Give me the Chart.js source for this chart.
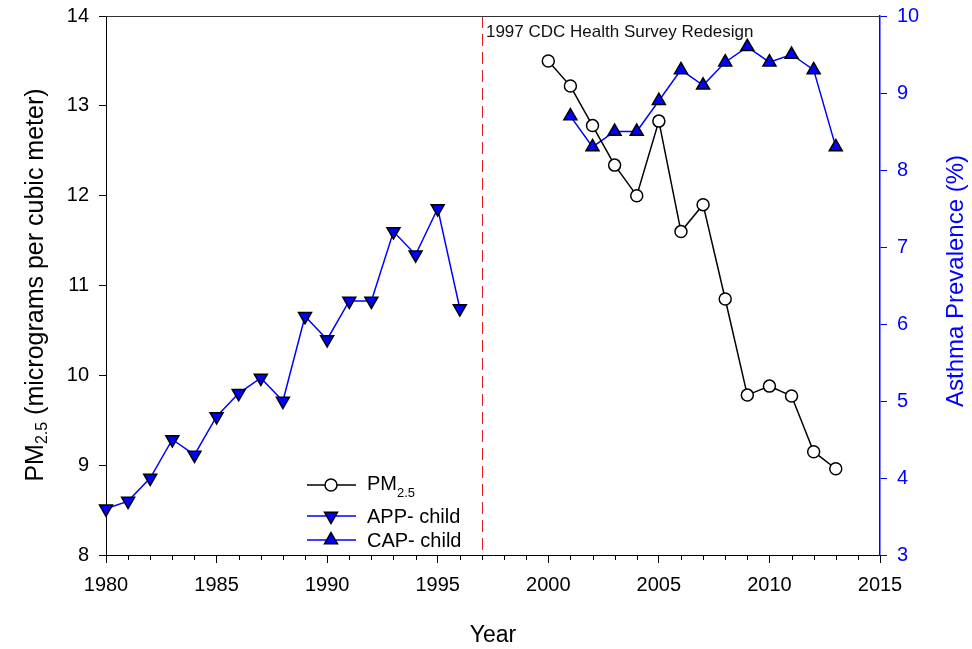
<!DOCTYPE html>
<html>
<head>
<meta charset="utf-8">
<script src="https://cdn.jsdelivr.net/npm/chart.js@4.4.1/dist/chart.umd.min.js"></script>
<style>
  html, body { margin: 0; padding: 0; background: #fff; }
  canvas { display: block; }
</style>
</head>
<body>
<canvas id="chart" width="972" height="649"></canvas>
<script>
// data
const appYears  = [1980, 1981, 1982, 1983, 1984, 1985, 1986, 1987, 1988, 1989, 1990, 1991, 1992, 1993, 1994, 1995, 1996]
const appValues = [3.6, 3.7, 4.0, 4.5, 4.3, 4.8, 5.1, 5.3, 5.0, 6.1, 5.8, 6.3, 6.3, 7.2, 6.9, 7.5, 6.2]

const capYears  = [2001, 2002, 2003, 2004, 2005, 2006, 2007, 2008, 2009, 2010, 2011, 2012, 2013]
const capValues = [8.7, 8.3, 8.5, 8.5, 8.9, 9.3, 9.1, 9.4, 9.6, 9.4, 9.5, 9.3, 8.3]

const pmYears  = [2000, 2001, 2002, 2003, 2004, 2005, 2006, 2007, 2008, 2009, 2010, 2011, 2012, 2013]
const pmValues = [13.5, 13.22, 12.78, 12.34, 12.0, 12.83, 11.6, 11.9, 10.85, 9.78, 9.88, 9.77, 9.15, 8.96]

const redesignYear = 1997
const redesignLabel = '1997 CDC Health Survey Redesign'

const FONT = '"Liberation Sans", Arial, sans-serif'
const BLUE = '#0000ff'

const toPoints = (xs, ys) => xs.map((x, i) => ({ x: x, y: ys[i] }))

// axis titles, legend, minor ticks, redesign marker
const extras = {
  id: 'extras',
  beforeDatasetsDraw(chart) {
    const { ctx, chartArea: a, scales } = chart
    const x = scales.x.getPixelForValue(redesignYear)
    ctx.save()
    ctx.strokeStyle = '#e02020'
    ctx.lineWidth = 1
    ctx.setLineDash([12, 6])
    ctx.beginPath()
    ctx.moveTo(Math.round(x) + 0.5, a.top)
    ctx.lineTo(Math.round(x) + 0.5, a.bottom)
    ctx.stroke()
    ctx.setLineDash([])
    // top frame
    ctx.strokeStyle = '#333'
    ctx.beginPath()
    ctx.moveTo(a.left, Math.round(a.top) + 0.5)
    ctx.lineTo(a.right, Math.round(a.top) + 0.5)
    ctx.stroke()
    // minor year ticks
    ctx.strokeStyle = '#000'
    ctx.beginPath()
    for (let yr = 1980; yr <= 2015; yr++) {
      if (yr % 5 === 0) continue
      const px = Math.round(scales.x.getPixelForValue(yr)) + 0.5
      ctx.moveTo(px, a.bottom)
      ctx.lineTo(px, a.bottom + 5)
    }
    ctx.stroke()
    ctx.fillStyle = '#111'
    ctx.font = '17px ' + FONT
    ctx.textBaseline = 'alphabetic'
    ctx.fillText(redesignLabel, x + 4, 37)
    ctx.restore()
  },
  afterDraw(chart) {
    const { ctx, chartArea: a } = chart
    ctx.save()
    ctx.textBaseline = 'alphabetic'

    // x title
    ctx.fillStyle = '#000'
    ctx.font = '23px ' + FONT
    ctx.textAlign = 'center'
    ctx.fillText('Year', (a.left + a.right) / 2, 642)

    // left title with subscript
    ctx.textAlign = 'left'
    const big = '25px ' + FONT, small = '16px ' + FONT
    const parts = [['PM', big, 0], ['2.5', small, 4], [' (micrograms per cubic meter)', big, 0]]
    let total = 0
    parts.forEach(p => { ctx.font = p[1]; total += ctx.measureText(p[0]).width })
    ctx.translate(43, 285)
    ctx.rotate(-Math.PI / 2)
    let off = -total / 2
    parts.forEach(p => {
      ctx.font = p[1]
      ctx.fillText(p[0], off, p[2])
      off += ctx.measureText(p[0]).width
    })
    ctx.setTransform(1, 0, 0, 1, 0, 0)

    // right title
    ctx.fillStyle = BLUE
    ctx.font = '24px ' + FONT
    ctx.textAlign = 'center'
    ctx.translate(963, 281)
    ctx.rotate(-Math.PI / 2)
    ctx.fillText('Asthma Prevalence (%)', 0, 0)
    ctx.setTransform(1, 0, 0, 1, 0, 0)

    // legend
    const rows = [
      { y: 485, ds: chart.data.datasets[0], label: 'PM', sub: '2.5' },
      { y: 516, ds: chart.data.datasets[1], label: 'APP- child' },
      { y: 540, ds: chart.data.datasets[2], label: 'CAP- child' }
    ]
    rows.forEach(r => {
      ctx.strokeStyle = r.ds.borderColor
      ctx.lineWidth = 1.5
      ctx.beginPath()
      ctx.moveTo(307, r.y)
      ctx.lineTo(356, r.y)
      ctx.stroke()
      ctx.fillStyle = r.ds.pointBackgroundColor
      ctx.strokeStyle = r.ds.pointBorderColor
      ctx.lineWidth = r.ds.pointBorderWidth
      Chart.helpers.drawPoint(ctx, {
        pointStyle: r.ds.pointStyle,
        rotation: r.ds.pointRotation || 0,
        radius: r.ds.pointRadius,
        borderWidth: r.ds.pointBorderWidth
      }, 331, r.y)
      ctx.fillStyle = '#000'
      ctx.textAlign = 'left'
      ctx.font = '20px ' + FONT
      if (r.sub) {
        ctx.fillText(r.label, 367, 490)
        const w = ctx.measureText(r.label).width
        ctx.font = '13px ' + FONT
        ctx.fillText(r.sub, 367 + w, 497)
      } else {
        ctx.fillText(r.label, 367, r.y + 7)
      }
    })
    ctx.restore()
  }
}

const chart = new Chart(document.getElementById('chart'), {
  type: 'line',
  data: {
    datasets: [
      {
        label: 'PM2.5',
        data: toPoints(pmYears, pmValues),
        yAxisID: 'y',
        clip: false,
        borderColor: '#000',
        borderWidth: 1.5,
        pointStyle: 'circle',
        pointRadius: 6,
        pointBackgroundColor: '#fff',
        pointBorderColor: '#000',
        pointBorderWidth: 1.5
      },
      {
        label: 'APP- child',
        data: toPoints(appYears, appValues),
        yAxisID: 'y1',
        clip: false,
        borderColor: BLUE,
        borderWidth: 1.5,
        pointStyle: 'triangle',
        pointRotation: 180,
        pointRadius: 7.5,
        pointBackgroundColor: BLUE,
        pointBorderColor: '#000',
        pointBorderWidth: 1.5
      },
      {
        label: 'CAP- child',
        data: toPoints(capYears, capValues),
        yAxisID: 'y1',
        clip: false,
        borderColor: BLUE,
        borderWidth: 1.5,
        pointStyle: 'triangle',
        pointRadius: 7.5,
        pointBackgroundColor: BLUE,
        pointBorderColor: '#000',
        pointBorderWidth: 1.5
      }
    ]
  },
  options: {
    responsive: false,
    animation: false,
    layout: { padding: { top: 16, left: 0, right: 0, bottom: 0 } },
    plugins: { legend: { display: false }, tooltip: { enabled: false } },
    elements: { line: { tension: 0 } },
    scales: {
      x: {
        type: 'linear',
        min: 1980,
        max: 2015,
        afterFit(s) { s.height = 94; s.paddingLeft = 0; s.paddingRight = 0 },
        ticks: { stepSize: 5, autoSkip: false, maxRotation: 0, padding: 10, color: '#000', font: { family: FONT, size: 20 }, callback: v => String(v) },
        grid: { drawOnChartArea: false, tickLength: 8, color: '#000' },
        border: { color: '#000', width: 1 }
      },
      y: {
        position: 'left',
        min: 8,
        max: 14,
        afterFit(s) { s.width = 106; s.paddingTop = 0; s.paddingBottom = 0 },
        ticks: { stepSize: 1, padding: 10, color: '#000', font: { family: FONT, size: 20 } },
        grid: { drawOnChartArea: false, tickLength: 7, color: '#000' },
        border: { color: '#000', width: 1 }
      },
      y1: {
        position: 'right',
        min: 3,
        max: 10,
        afterFit(s) { s.width = 92; s.paddingTop = 0; s.paddingBottom = 0 },
        ticks: { stepSize: 1, padding: 10, color: BLUE, font: { family: FONT, size: 20 } },
        grid: { drawOnChartArea: false, tickLength: 7, color: BLUE },
        border: { color: BLUE, width: 1.5 }
      }
    }
  },
  plugins: [extras]
})
</script>
</body>
</html>
